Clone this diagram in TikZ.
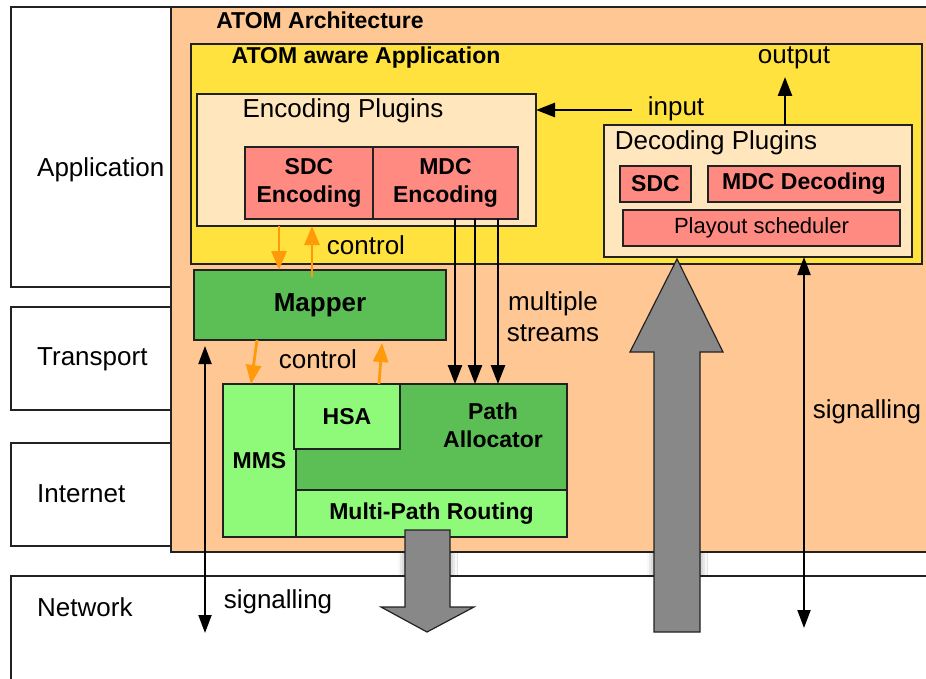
\documentclass[tikz,border=0pt]{standalone}
\usepackage{fontspec}
\setmainfont{Liberation Sans}
\usetikzlibrary{arrows.meta,shadows.blur}

\definecolor{atomorange}{HTML}{FEC794}
\definecolor{atomyellow}{HTML}{FFE23E}
\definecolor{atomcream}{HTML}{FFE6BC}
\definecolor{atomsalmon}{HTML}{FF8A82}
\definecolor{atomgreen}{HTML}{5CBF55}
\definecolor{atomlight}{HTML}{8FF97A}
\definecolor{ctrlorange}{HTML}{FF9A0A}
\definecolor{arrowgray}{HTML}{888888}
\definecolor{edge}{HTML}{222222}

\newcommand\rfont{\fontsize{26}{31}\selectfont}
\newcommand\bfont{\fontsize{23}{28}\selectfont\bfseries}
\newcommand\bigbfont{\fontsize{26}{30}\selectfont\bfseries}
\newcommand\sfont{\fontsize{22}{26}\selectfont}

% rectangle node from its top-left and bottom-right corners
\newcommand\blk[7]{\node[#2, anchor=north west,
  minimum width={(#5-#3)*1pt}, minimum height={(#6-#4)*1pt}] (#1) at (#3,#4) {#7};}

% outlines of the two broad media arrows
\newcommand\downflow{(405,530) -- (450,530) -- (450,607) -- (474,607) -- (427,632)
  -- (381,607) -- (405,607) -- cycle}
\newcommand\upflow{(654,632) -- (700,632) -- (700,352) -- (723,352) -- (677,259)
  -- (630,352) -- (654,352) -- cycle}

\tikzset{
  box/.style={draw=edge, line width=1.2pt, inner sep=0pt, outer sep=0pt},
  layerbox/.style={box, fill=white},
  archbox/.style={box, fill=atomorange},
  appbox/.style={box, fill=atomyellow},
  plugbox/.style={box, fill=atomcream},
  codecbox/.style={box, fill=atomsalmon, font=\bfont, align=center},
  darkgreenbox/.style={box, fill=atomgreen, font=\bfont, align=center},
  lightgreenbox/.style={box, fill=atomlight, font=\bfont, align=center},
  lbl/.style={font=\rfont, inner sep=0pt, align=center},
  blbl/.style={font=\bfont, inner sep=0pt, align=center},
  flow/.style={draw=black, line width=2.6pt, -{Triangle[width=14pt,length=19pt]}},
  ctrl/.style={draw=ctrlorange, line width=2.8pt, -{Triangle[width=15pt,length=19pt]}},
  sig/.style={draw=black, line width=2pt,
    {Triangle[width=13pt,length=18pt]}-{Triangle[width=13pt,length=18pt]}},
  bigarrow/.style={fill=arrowgray, draw=edge, line width=1.2pt},
  haze/.style={fill=arrowgray,
    blur shadow={shadow xshift=0pt, shadow yshift=0pt, shadow blur radius=7pt, shadow opacity=45}},
}

\begin{document}
\begin{tikzpicture}[x=1pt,y=-1pt]
\useasboundingbox (0,0) rectangle (926,679);
\clip (0,0) rectangle (926,679);
\fill[white] (0,0) rectangle (926,679);

% protocol layers
\blk{applayer}{layerbox}{11}{7}{1000}{287}{}
\blk{translayer}{layerbox}{11}{307}{1000}{410}{}
\blk{netlayer}{layerbox}{11}{443}{1000}{546}{}
\blk{nwlayer}{layerbox}{11}{576}{1000}{760}{}
\node[lbl, anchor=west] (applbl) at (37,170) {Application};
\node[lbl, anchor=west] (translbl) at (37,359) {Transport};
\node[lbl, anchor=west] (netlbl) at (37,494) {Internet};
\node[lbl, anchor=west] (nwlbl) at (37,607) {Network};

% ATOM architecture
\blk{arch}{archbox}{171}{7}{1000}{552}{}
\node[blbl] (archlbl) at (320,20) {ATOM Architecture};

\blk{app}{appbox}{191}{44}{922}{264}{}
\node[blbl] (applbl2) at (366,58) {ATOM aware Application};

% encoding side
\blk{encplug}{plugbox}{197}{94}{536}{226}{}
\node[lbl] (enclbl) at (343,111) {Encoding Plugins};
\blk{sdcenc}{codecbox}{245}{147}{373}{219}{SDC\\Encoding}
\blk{mdcenc}{codecbox}{373}{147}{518}{219}{MDC\\Encoding}

% decoding side
\blk{decplug}{plugbox}{604}{125}{912}{257}{}
\node[lbl] (declbl) at (716,143) {Decoding Plugins};
\blk{sdcdec}{codecbox}{620}{166}{691}{202}{SDC}
\blk{mdcdec}{codecbox}{708}{166}{900}{202}{MDC Decoding}
\blk{playout}{box, fill=atomsalmon, font=\sfont}{623}{210}{900}{246}{Playout scheduler}

% mapper and path management
\blk{mapper}{darkgreenbox, font=\bigbfont}{194}{270}{446}{340}{Mapper}
\blk{mms}{lightgreenbox}{223}{384}{296}{537}{MMS}
\blk{pa}{darkgreenbox}{296}{384}{567}{490}{}
\node[blbl] (palbl) at (493,425) {Path\\Allocator};
\blk{hsa}{lightgreenbox}{294}{384}{400}{449}{HSA}
\blk{mpr}{lightgreenbox}{296}{490}{567}{537}{Multi-Path Routing}

% media flow into and out of the network, with a soft haze in the gap
\begin{scope}
  \clip (arch.south west) rectangle (nwlayer.north east);
  \path[haze] \downflow;
  \path[haze] \upflow;
\end{scope}
\draw[bigarrow] \downflow;
\draw[bigarrow] \upflow;

% input / output
\coordinate (inS) at (632,110);
\draw[flow] (inS) -- (inS -| encplug.east);
\node[lbl] (inlbl) at (676,109) {input};
\coordinate (outE) at (785,77);
\draw[flow] (outE |- decplug.north) -- (outE);
\node[lbl] (outlbl) at (794,58) {output};

% control between plugins and mapper
\coordinate (c1) at (279,0);
\coordinate (c2s) at (312,277);
\draw[ctrl] (c1 |- encplug.south) -- (c1 |- mapper.north);
\draw[ctrl] (c2s) -- (c2s |- encplug.south);
\node[lbl] (ctrl1) at (366,245) {control};

% control between mapper and path management
\coordinate (c3s) at (257,0);
\coordinate (c3e) at (251,0);
\coordinate (c4s) at (379,0);
\coordinate (c4e) at (382,343);
\draw[ctrl] (c3s |- mapper.south) -- (c3e |- mms.north);
\draw[ctrl] (c4s |- hsa.north) -- (c4e);
\node[lbl] (ctrl2) at (318,359) {control};

% multiple streams
\foreach \sx [count=\i] in {455,475,498} {
  \coordinate (s\i) at (\sx,0);
  \draw[flow] (s\i |- mdcenc.south) -- (s\i |- pa.north);
}
\node[lbl] (streamlbl) at (553,317) {multiple\\streams};

% signalling
\coordinate (sigLtop) at (205,346);
\coordinate (sigLbot) at (205,633);
\draw[sig] (sigLtop) -- (sigLbot);
\node[lbl] (sigLlbl) at (278,602) {signalling};
\coordinate (sigRbot) at (804,628);
\draw[sig] (sigRbot) -- (sigRbot |- decplug.south);
\node[lbl] (sigRlbl) at (867,412) {signalling};
\end{tikzpicture}
\end{document}
